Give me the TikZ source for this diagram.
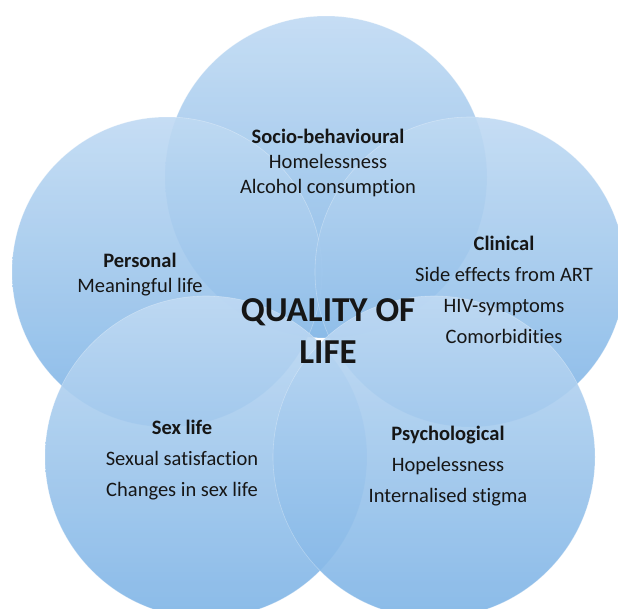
\documentclass[tikz,border=0pt]{standalone}
\usepackage{fontspec}
\setmainfont[Ligatures = NoCommon]{Carlito}
\usetikzlibrary{positioning}
\definecolor{circtop}{RGB}{192,218,243}
\definecolor{circmid}{RGB}{136,186,233}
\definecolor{circbot}{RGB}{126,180,230}
\definecolor{txt}{RGB}{22,22,22}
\tikzset{bubble/.style = {top color = circtop, middle color = circmid, bottom color = circbot, fill opacity = 0.9, draw = white, draw opacity = 0.3, line width = 0.6pt}}
\tikzset{facttext/.style = {text = txt, align = center, inner sep = 0, font = \fontsize{20.5}{31}\selectfont}}

\begin{document}
\begin{tikzpicture}[x = 1pt, y = -1pt]
      \clip (0, 0) rectangle (618, 608);
      \fill [white] (0, 0) rectangle (618, 608);
      % the five circles
      \path [bubble] (326, 177) circle [radius = 161pt];
      \path [bubble] (167, 272) circle [radius = 155pt];
      \path [bubble] (470, 272) circle [radius = 155pt];
      \path [bubble] (206, 457) circle [radius = 161pt];
      \path [bubble] (434, 457) circle [radius = 161pt];
      % texts
      \node [facttext, font = \fontsize{20.5}{25}\selectfont] (socio) at (328, 163)
        {\textbf{Socio-behavioural}\\Homelessness\\Alcohol consumption};
      \node [facttext, font = \fontsize{20.5}{25}\selectfont] (personal) at (140, 275)
        {\textbf{Personal}\\Meaningful life};
      \node [facttext] (clinical) at (504, 290)
        {\textbf{Clinical}\\Side effects from ART\\HIV-symptoms\\Comorbidities};
      \node [facttext] (sexlife) at (182, 460)
        {\textbf{Sex life}\\Sexual satisfaction\\Changes in sex life};
      \node [facttext] (psych) at (448, 466)
        {\textbf{Psychological}\\Hopelessness\\Internalised stigma};
      \node [facttext, font = \fontsize{35}{42}\selectfont\bfseries] (qol) at (328, 331)
        {QUALITY OF\\LIFE};
    \end{tikzpicture}
\end{document}
